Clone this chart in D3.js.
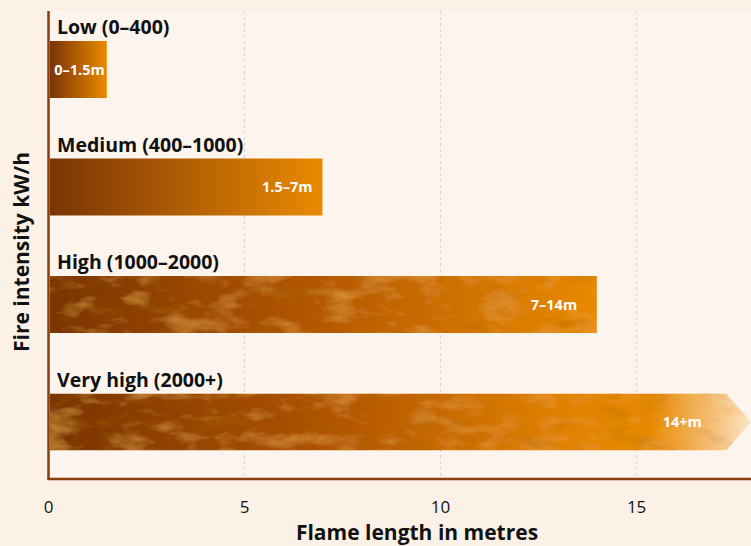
<!DOCTYPE html>
<html>
<head>
<meta charset="utf-8">
<script src="https://cdn.jsdelivr.net/npm/d3@7"></script>
<style>
  body { margin: 0; background: #fcf1e6; }
  svg { display: block; font-family: "Open Sans", "Noto Sans", sans-serif; }
</style>
</head>
<body>
<div id="chart"></div>
<script>
// data
var categories = ["Low (0–400)", "Medium (400–1000)", "High (1000–2000)", "Very high (2000+)"];
var flameMax = [1.5, 7, 14, 17.3];
var flameLabels = ["0–1.5m", "1.5–7m", "7–14m", "14+m"];
var xTicks = [0, 5, 10, 15];

var W = 751, H = 546;
var margin = {top: 11, right: 0, bottom: 67, left: 48};
var width = W - margin.left - margin.right,
    height = H - margin.top - margin.bottom;

var svg = d3.select("#chart").append("svg")
    .attr("width", W)
    .attr("height", H);

var defs = svg.append("defs");

// gradient per bar
function grad(id, stops) {
  var g = defs.append("linearGradient").attr("id", id)
    .attr("x1", "0%").attr("x2", "100%").attr("y1", "0%").attr("y2", "0%");
  stops.forEach(function (s) {
    g.append("stop").attr("offset", s[0]).attr("stop-color", s[1]);
  });
}
grad("g0", [[0, "#7a3406"], [1, "#e98a00"]]);
grad("g1", [[0, "#7a3406"], [1, "#e98a00"]]);
grad("g2", [[0, "#7a3406"], [0.45, "#b05406"], [1, "#e98a00"]]);
grad("g3", [[0, "#7a3406"], [0.4, "#b05406"], [0.72, "#e08000"], [0.86, "#e78a06"], [1, "#fde3c2"]]);

// fire-ish texture: light and dark blotches over the gradient
var f = defs.append("filter").attr("id", "tex")
  .attr("x", 0).attr("y", 0).attr("width", 1).attr("height", 1);
f.append("feTurbulence").attr("type", "fractalNoise")
  .attr("baseFrequency", "0.025 0.06").attr("numOctaves", 4).attr("seed", 3).attr("result", "noise");
f.append("feColorMatrix").attr("in", "noise").attr("type", "matrix")
  .attr("values", "0 0 0 0 0.88  0 0 0 0 0.42  0 0 0 0 0.06  1.2 0 0 0 -0.6")
  .attr("result", "light");
f.append("feColorMatrix").attr("in", "noise").attr("type", "matrix")
  .attr("values", "0 0 0 0 0.38  0 0 0 0 0.13  0 0 0 0 0.0  0 -1.2 0 0 0.56")
  .attr("result", "dark");
var m = f.append("feMerge").attr("result", "merged");
m.append("feMergeNode").attr("in", "SourceGraphic");
m.append("feMergeNode").attr("in", "light");
m.append("feMergeNode").attr("in", "dark");
f.append("feComposite").attr("in", "merged").attr("in2", "SourceGraphic").attr("operator", "in");

var x = d3.scaleLinear()
  .domain([0, 17.93])
  .range([margin.left, W - margin.right]);

var y = d3.scaleBand()
  .domain(categories)
  .range([margin.top + 1, margin.top + 1 + 4 * 117.5]);

var barOff = 29, barH = 57;

// plot area
svg.append("rect")
  .attr("x", x(0) + 2).attr("y", margin.top)
  .attr("width", W - x(0) - 2).attr("height", height)
  .attr("fill", "#fdf5ed");

// grid
svg.append("g").selectAll("line")
  .data(xTicks.filter(function (d) { return d > 0; }))
  .enter().append("line")
    .attr("x1", function (d) { return x(d) + 0.5; })
    .attr("x2", function (d) { return x(d) + 0.5; })
    .attr("y1", margin.top)
    .attr("y2", margin.top + height)
    .attr("stroke", "#d6d2cf")
    .attr("stroke-dasharray", "3,3");

// bars
var bars = svg.append("g").selectAll("g.bar")
  .data(categories)
  .enter().append("g").attr("class", "bar");

bars.append("path")
  .attr("d", function (d, i) {
    var x0 = x(0) + 2, x1 = x(flameMax[i]);
    var y0 = y(d) + barOff, y1 = y0 + barH;
    if (i === categories.length - 1) {
      // arrow head
      var tip = x.range()[1];
      return "M" + x0 + "," + y0 + "H" + x1 + "L" + tip + "," + (y0 + barH / 2) +
             "L" + x1 + "," + y1 + "H" + x0 + "Z";
    }
    return "M" + x0 + "," + y0 + "H" + x1 + "V" + y1 + "H" + x0 + "Z";
  })
  .attr("fill", function (d, i) { return "url(#g" + i + ")"; })
  .attr("filter", function (d, i) { return i >= 2 ? "url(#tex)" : null; });

bars.append("text")
  .attr("x", 57)
  .attr("y", function (d) { return y(d) + 22; })
  .attr("font-size", 19.5)
  .attr("font-weight", "bold")
  .attr("fill", "#111")
  .text(function (d) { return d; });

bars.append("text")
  .attr("x", function (d, i) {
    var w = x(flameMax[i]) - x(0);
    return x(flameMax[i]) - w * 0.036;
  })
  .attr("y", function (d) { return y(d) + barOff + barH / 2 + 5; })
  .attr("text-anchor", "end")
  .attr("font-size", 14.5)
  .attr("font-weight", "bold")
  .attr("fill", "#fff")
  .text(function (d, i) { return flameLabels[i]; });

// axes
var axisCol = "#8a3c0c";
svg.append("line")
  .attr("x1", x(0) + 0.5).attr("x2", x(0) + 0.5)
  .attr("y1", margin.top).attr("y2", margin.top + height + 1)
  .attr("stroke", axisCol).attr("stroke-width", 2.5);
svg.append("line")
  .attr("x1", x(0) - 0.5).attr("x2", W)
  .attr("y1", margin.top + height).attr("y2", margin.top + height)
  .attr("stroke", axisCol).attr("stroke-width", 2.5);

var xAxis = svg.append("g")
  .attr("transform", "translate(0," + (margin.top + height) + ")")
  .call(d3.axisBottom(x).tickValues(xTicks).tickSize(0).tickPadding(22));
xAxis.select(".domain").remove();
xAxis.selectAll("text")
  .attr("font-size", 17)
  .attr("font-family", "Open Sans, sans-serif")
  .attr("fill", "#111");

svg.append("text")
  .attr("x", 417).attr("y", 540)
  .attr("text-anchor", "middle")
  .attr("font-size", 21)
  .attr("font-weight", "bold")
  .attr("fill", "#111")
  .text("Flame length in metres");

svg.append("text")
  .attr("transform", "translate(29,252) rotate(-90)")
  .attr("text-anchor", "middle")
  .attr("font-size", 21)
  .attr("font-weight", "bold")
  .attr("fill", "#111")
  .text("Fire intensity kW/h");
</script>
</body>
</html>
